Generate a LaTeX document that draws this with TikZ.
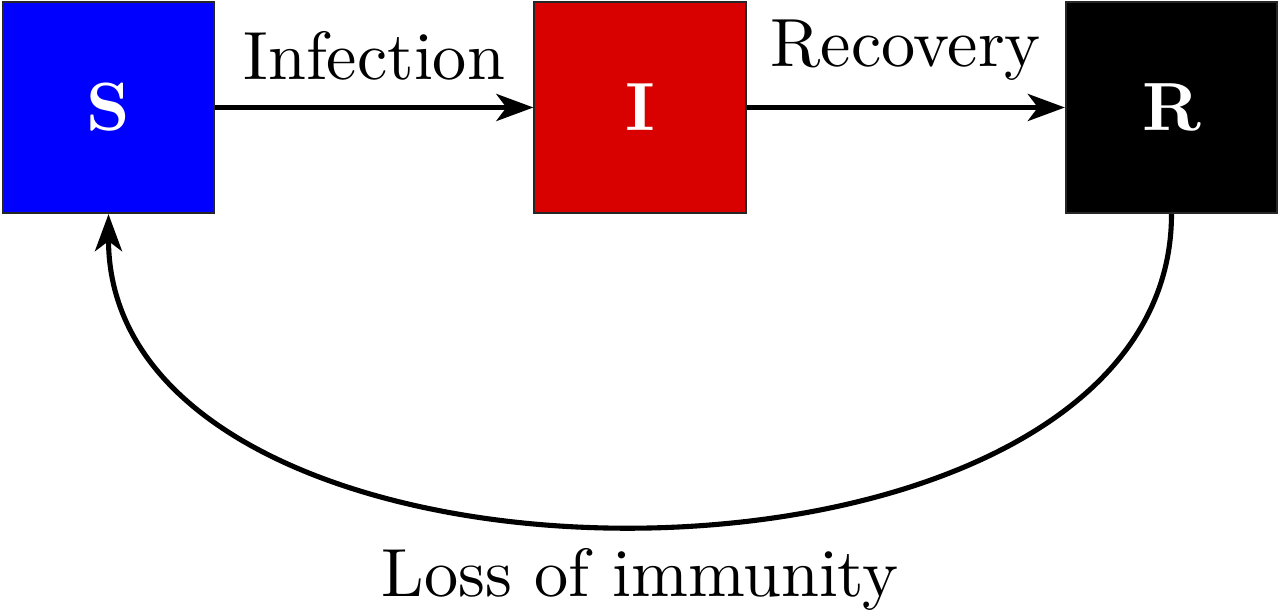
\documentclass[tikz,border=0pt]{standalone}
\usepackage{fontspec}
\newfontfamily\lmten{lmroman10-regular.otf}[BoldFont=lmroman10-bold.otf]
\usetikzlibrary{arrows.meta}
\begin{document}
\begin{tikzpicture}[x=0.01cm,y=-0.01cm,
  compartment/.style={draw=black!85, line width=0.6pt, minimum width=2.11cm, minimum height=2.11cm,
    inner sep=0pt, text=white, font=\lmten\fontsize{19.4}{23}\selectfont\bfseries},
  flow/.style={line width=1.45pt, -{Stealth[length=0.37cm,width=0.27cm,inset=0.1cm]}},
  lbl/.style={font=\lmten\fontsize{19.4}{23}\selectfont, inner sep=2pt}]
\definecolor{sblue}{RGB}{0,0,255}
\definecolor{ired}{RGB}{217,0,0}
\useasboundingbox (0,0) rectangle (1281,616);
\node[compartment, fill=sblue] (S) at (108.5,107.5) {S};
\node[compartment, fill=ired] (I) at (640,107.5) {I};
\node[compartment, fill=black] (R) at (1171.5,107.5) {R};
\draw[flow] (S) -- node[lbl, above, yshift=5pt] {Infection} (I);
\draw[flow] (I) -- node[lbl, above, yshift=5pt] {Recovery} (R);
\draw[flow] (R.south) to[out=-90, in=-90, looseness=1.0] node[lbl, below, yshift=-4pt] {Loss of immunity} (S.south);
\end{tikzpicture}
\end{document}
